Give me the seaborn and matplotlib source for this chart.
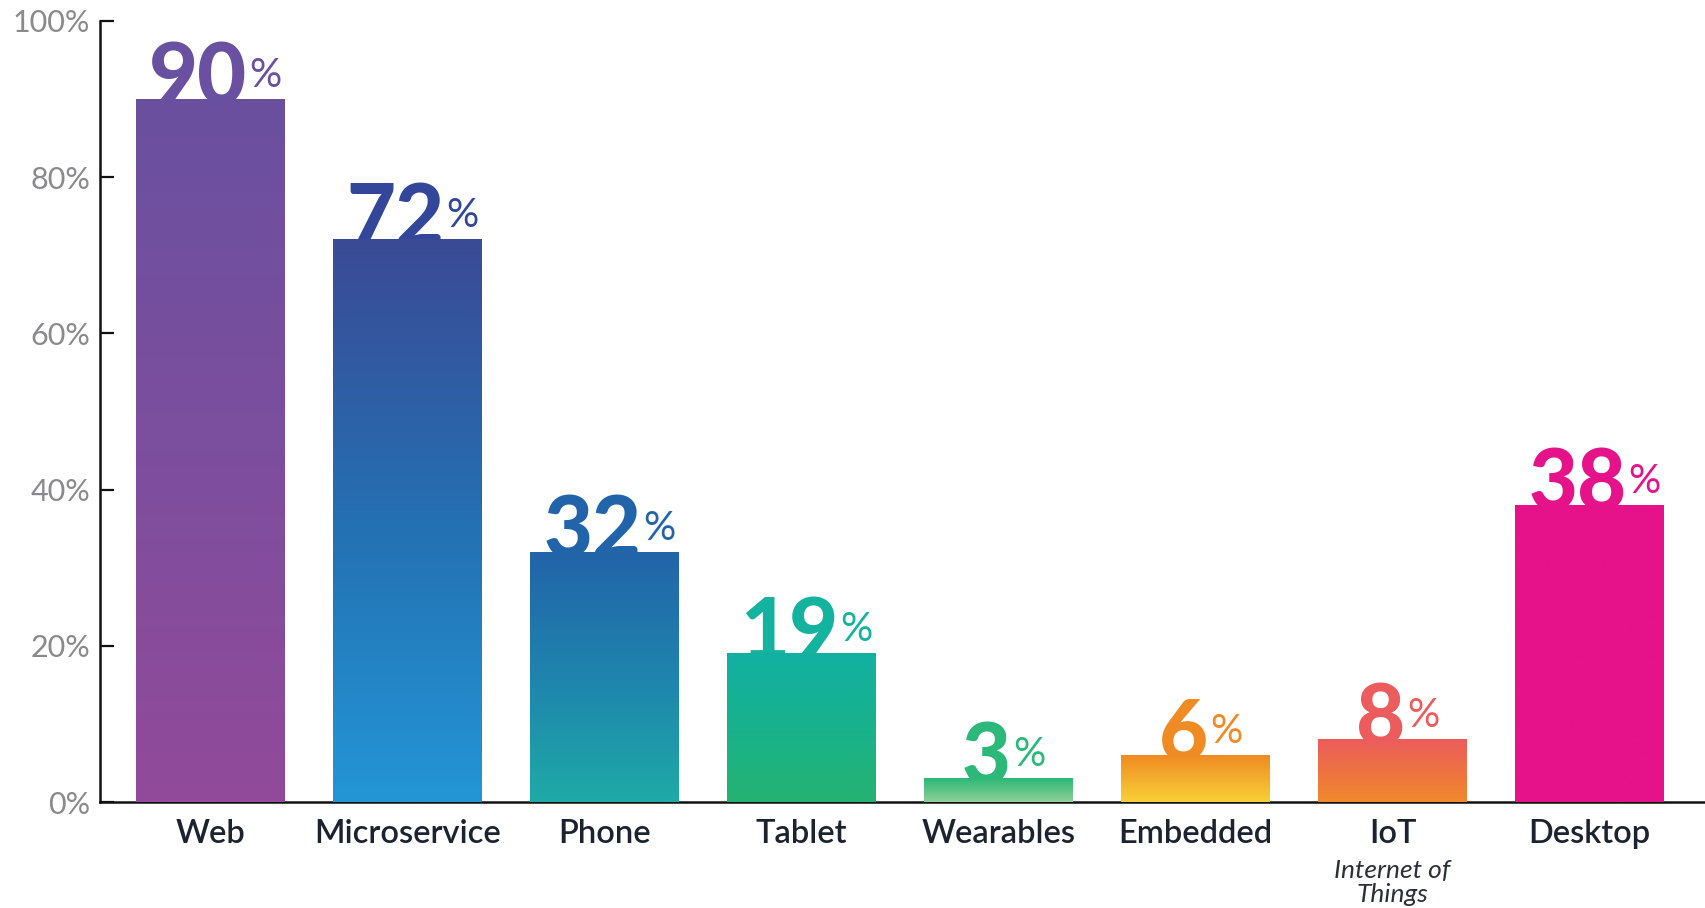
'''
Bar chart of platform usage with vertical gradient bars
'''
import numpy             as np
import pandas            as pnd
import seaborn           as sns
import matplotlib.pyplot as plt
from matplotlib.colors import LinearSegmentedColormap

categories = ['Web', 'Microservice', 'Phone', 'Tablet', 'Wearables', 'Embedded', 'IoT', 'Desktop']
values     = [90, 72, 32, 19, 3, 6, 8, 38]
sublabels  = ['', '', '', '', '', '', 'Internet of\nThings', '']
y_ticks    = [0, 20, 40, 60, 80, 100]

# gradient stops, top -> bottom
grad_stops = [
    ['#6a50a0', '#7d4e9e', '#924a9a'],
    ['#3b4a96', '#2470b2', '#2396d6'],
    ['#2264a8', '#1f84ae', '#1eaaa6'],
    ['#12b0a2', '#18b28c', '#25b372'],
    ['#2cb878', '#5cc486', '#92d098'],
    ['#f08a22', '#f4ae2e', '#f8d038'],
    ['#ec5c5c', '#ee7242', '#f08a2c'],
    ['#e5128a', '#e5128a', '#e5128a'],
]
label_colors = ['#6a50a0', '#33479a', '#2264aa', '#14b3a0', '#2cb878', '#f08a22', '#ec5c5c', '#e5128a']
# ----------------------
def _setup():
    sns.set_theme(style='white')
    plt.rcParams['font.family'] = ['Lato', 'DejaVu Sans']
# ----------------------
def _gradient_bars(ax):
    xlim, ylim = ax.get_xlim(), ax.get_ylim()
    grad = np.linspace(0, 1, 256).reshape(-1, 1)
    for patch, stops in zip(ax.patches, grad_stops):
        x0, w, h = patch.get_x(), patch.get_width(), patch.get_height()
        cmap = LinearSegmentedColormap.from_list('g', stops[::-1])
        ax.imshow(grad, extent=(x0, x0 + w, 0, h), origin='lower', cmap=cmap,
                  aspect='auto', zorder=3, interpolation='bilinear')
        patch.set_visible(False)
    ax.set_xlim(xlim)
    ax.set_ylim(ylim)
# ----------------------
def _value_labels(fig, ax):
    fig.canvas.draw()
    renderer = fig.canvas.get_renderer()
    k     = 72 / fig.dpi
    gap   = 2
    shift = 5
    for i, (val, col) in enumerate(zip(values, label_colors)):
        num = ax.annotate(str(val), xy=(i, val), xytext=(0, -4), textcoords='offset points',
                          ha='center', va='baseline', fontsize=61, fontweight='black',
                          color=col, zorder=1)
        pct = ax.annotate('%', xy=(i, val), xytext=(0, 9), textcoords='offset points',
                          ha='left', va='baseline', fontsize=29, color=col, zorder=1)
        wn    = num.get_window_extent(renderer).width
        wp    = pct.get_window_extent(renderer).width
        total = wn + gap + wp
        num.xyann = ((-total / 2 + wn / 2 + shift) * k, -4)
        pct.xyann = ((-total / 2 + wn + gap + shift) * k, 9)
# ----------------------
def main():
    _setup()
    fig = plt.figure(figsize=(17.05, 9.08), dpi=100)
    ax  = fig.add_axes([100 / 1705, 1 - 802 / 908, 1 - 100 / 1705, (802 - 21) / 908])

    df = pnd.DataFrame({'category' : categories, 'value' : values})
    sns.barplot(data=df, x='category', y='value', width=0.755, color='white',
                linewidth=0, ax=ax, zorder=3)

    ax.set_xlim(-0.56, 7.586)
    ax.set_ylim(0, 100)
    _gradient_bars(ax)

    ax.set_yticks(y_ticks)
    ax.set_yticklabels([f'{v}%' for v in y_ticks])
    ax.tick_params(axis='y', direction='in', left=True, length=10, width=1.6,
                   labelsize=22, labelcolor='#8a8a8c', pad=7, color='#111111')
    ax.tick_params(axis='x', length=0, labelsize=23.5, labelcolor='#1c2330', pad=12)
    for lab in ax.get_xticklabels():
        lab.set_fontweight('semibold')
    ax.set_xlabel('')
    ax.set_ylabel('')

    for side in ['top', 'right']:
        ax.spines[side].set_visible(False)
    for side in ['left', 'bottom']:
        ax.spines[side].set_color('#111111')
        ax.spines[side].set_linewidth(1.8)

    for i, sub in enumerate(sublabels):
        if not sub:
            continue
        ax.annotate(sub, xy=(i, 0), xycoords=('data', 'axes fraction'), xytext=(0, -58),
                    textcoords='offset points', ha='center', va='center', fontsize=19,
                    style='italic', color='#2a2f38', linespacing=1.05)

    _value_labels(fig, ax)
    fig.savefig('out.png', dpi=100)
# ----------------------
if __name__ == '__main__':
    main()
